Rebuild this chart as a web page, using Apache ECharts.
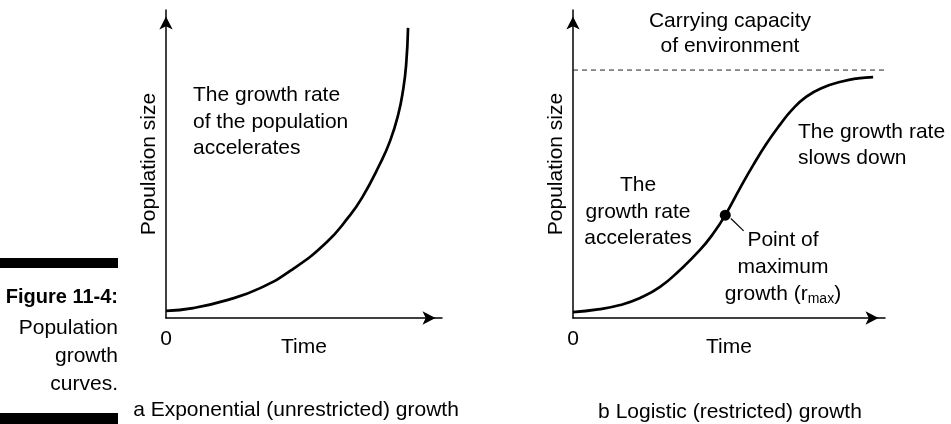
<!DOCTYPE html>
<html>
<head>
<meta charset="utf-8">
<script src="https://cdn.jsdelivr.net/npm/echarts@6/dist/echarts.min.js"></script>
<style>
  html, body { margin: 0; padding: 0; background: #ffffff; }
  #chart { width: 951px; height: 424px; }
</style>
</head>
<body>
<div id="chart"></div>
<script>
// Exponential (unrestricted) growth: time and population size, on a 0-100 scale
const expTime = [0, 9.8, 22.1, 34.1, 46.0, 58.3, 65.9, 71.0, 77.5, 81.2, 84.1, 85.9, 87.0, 87.7];
const expPop  = [2.3, 3.2, 5.8, 9.7, 15.9, 24.7, 32.5, 39.0, 50.0, 57.5, 65.9, 74.0, 82.1, 94.2];

// Logistic (restricted) growth
const logTime = [0, 8.0, 15.1, 21.5, 27.9, 34.3, 40.7, 45.0, 48.8, 53.5, 57.8, 62.1, 66.3, 70.1, 74.7, 79.8, 86.2, 91.3, 96.2];
const logPop  = [1.9, 2.8, 4.2, 6.5, 10.1, 15.6, 22.1, 27.5, 33.4, 42.1, 49.7, 56.7, 62.7, 67.5, 71.8, 74.7, 76.8, 77.8, 78.2];

// Carrying capacity of the environment
const capacity = 80.5;

// Point of maximum growth (r_max) and the short leader line to its label
const rmaxTime = 48.8;
const rmaxPop = 33.4;
const leaderTime = [50.6, 54.7];
const leaderPop  = [32.3, 28.3];

// Axis tick labels
const axisMin = 0;
const axisMax = 100;
const originLabel = '0';

const FONT = '"Liberation Sans", Arial, sans-serif';
const INK = '#000000';

const zip = (xs, ys) => xs.map((x, i) => [x, ys[i]]);

function makeXAxis(gridIndex) {
  return {
    gridIndex: gridIndex,
    type: 'value',
    min: axisMin,
    max: axisMax,
    interval: axisMax - axisMin,
    name: 'Time',
    nameLocation: 'middle',
    nameGap: 19,
    nameMoveOverlap: false,
    nameTextStyle: { color: INK, fontSize: 21, fontFamily: FONT },
    axisLine: {
      show: true,
      symbol: ['none', 'arrow'],
      symbolSize: [10, 13],
      symbolOffset: [0, -6.5],
      lineStyle: { color: INK, width: 1.5 }
    },
    axisTick: { show: false },
    splitLine: { show: false },
    axisLabel: {
      color: INK,
      fontSize: 21,
      fontFamily: FONT,
      margin: 11,
      formatter: v => (v === axisMin ? originLabel : '')
    }
  };
}

function makeYAxis(gridIndex) {
  return {
    gridIndex: gridIndex,
    type: 'value',
    min: axisMin,
    max: axisMax,
    name: 'Population size',
    nameLocation: 'middle',
    nameGap: 6,
    nameRotate: 90,
    nameMoveOverlap: false,
    nameTextStyle: { color: INK, fontSize: 21, fontFamily: FONT },
    axisLine: {
      show: true,
      symbol: ['none', 'arrow'],
      symbolSize: [10, 13],
      symbolOffset: [0, -6.5],
      lineStyle: { color: INK, width: 1.5 }
    },
    axisTick: { show: false },
    splitLine: { show: false },
    axisLabel: { show: false }
  };
}

function text(str, x, y, align, lineHeight) {
  return {
    type: 'text',
    x: x,
    y: y,
    style: {
      text: str,
      fill: INK,
      font: '21px ' + FONT,
      align: align,
      verticalAlign: 'top',
      lineHeight: lineHeight || 26.5
    }
  };
}

const chart = echarts.init(document.getElementById('chart'), null, { renderer: 'canvas' });

chart.setOption({
  animation: false,
  backgroundColor: '#ffffff',
  grid: [
    { left: 166, top: 10, width: 276, height: 308 },
    { left: 573, top: 10, width: 312, height: 308 }
  ],
  xAxis: [makeXAxis(0), makeXAxis(1)],
  yAxis: [makeYAxis(0), makeYAxis(1)],
  series: [
    {
      name: 'Exponential growth',
      type: 'line',
      xAxisIndex: 0, yAxisIndex: 0,
      data: zip(expTime, expPop),
      smooth: 0.5,
      symbol: 'none',
      lineStyle: { color: INK, width: 2.7 },
      clip: false
    },
    {
      name: 'Carrying capacity',
      type: 'line',
      xAxisIndex: 1, yAxisIndex: 1,
      data: [[axisMin, capacity], [axisMax, capacity]],
      symbol: 'none',
      lineStyle: { color: '#222222', width: 1, type: [5, 4] },
      clip: false
    },
    {
      name: 'Logistic growth',
      type: 'line',
      xAxisIndex: 1, yAxisIndex: 1,
      data: zip(logTime, logPop),
      smooth: 0.5,
      symbol: 'none',
      lineStyle: { color: INK, width: 2.7 },
      clip: false
    },
    {
      name: 'Leader',
      type: 'line',
      xAxisIndex: 1, yAxisIndex: 1,
      data: zip(leaderTime, leaderPop),
      symbol: 'none',
      lineStyle: { color: INK, width: 1.2 },
      clip: false
    },
    {
      name: 'Maximum growth',
      type: 'scatter',
      xAxisIndex: 1, yAxisIndex: 1,
      data: [[rmaxTime, rmaxPop]],
      symbol: 'circle',
      symbolSize: 11,
      itemStyle: { color: INK, opacity: 1 },
      z: 5
    }
  ],
  graphic: [
    // Side caption with its rules
    { type: 'rect', shape: { x: 0, y: 258, width: 118, height: 10 }, style: { fill: INK } },
    { type: 'rect', shape: { x: 0, y: 413, width: 118, height: 11 }, style: { fill: INK } },
    {
      type: 'text', x: 118, y: 287,
      style: { text: 'Figure 11-4:', fill: INK, font: 'bold 20px ' + FONT, align: 'right', verticalAlign: 'top' }
    },
    {
      type: 'text', x: 118, y: 314,
      style: { text: 'Population\ngrowth\ncurves.', fill: INK, font: '21px ' + FONT, align: 'right', verticalAlign: 'top', lineHeight: 28 }
    },

    // Panel a annotations
    text('The growth rate\nof the population\naccelerates', 193, 82, 'left'),
    text('a Exponential (unrestricted) growth', 296, 397, 'center'),

    // Panel b annotations
    text('Carrying capacity\nof environment', 730, 9, 'center', 25),
    text('The growth rate\nslows down', 798, 119, 'left', 26),
    text('The\ngrowth rate\naccelerates', 638, 172, 'center'),
    {
      type: 'text', x: 783, y: 227,
      style: {
        text: '{n|Point of}\n{n|maximum}\n{n|growth (r}{s|max}{n|)}',
        fill: INK,
        align: 'center',
        verticalAlign: 'top',
        rich: {
          n: { fontSize: 21, fontFamily: FONT, color: INK, lineHeight: 27 },
          s: { fontSize: 14, fontFamily: FONT, color: INK, lineHeight: 27, padding: [10, 0, 0, 0] }
        }
      }
    },
    text('b Logistic (restricted) growth', 730, 399, 'center')
  ]
});
</script>
</body>
</html>
